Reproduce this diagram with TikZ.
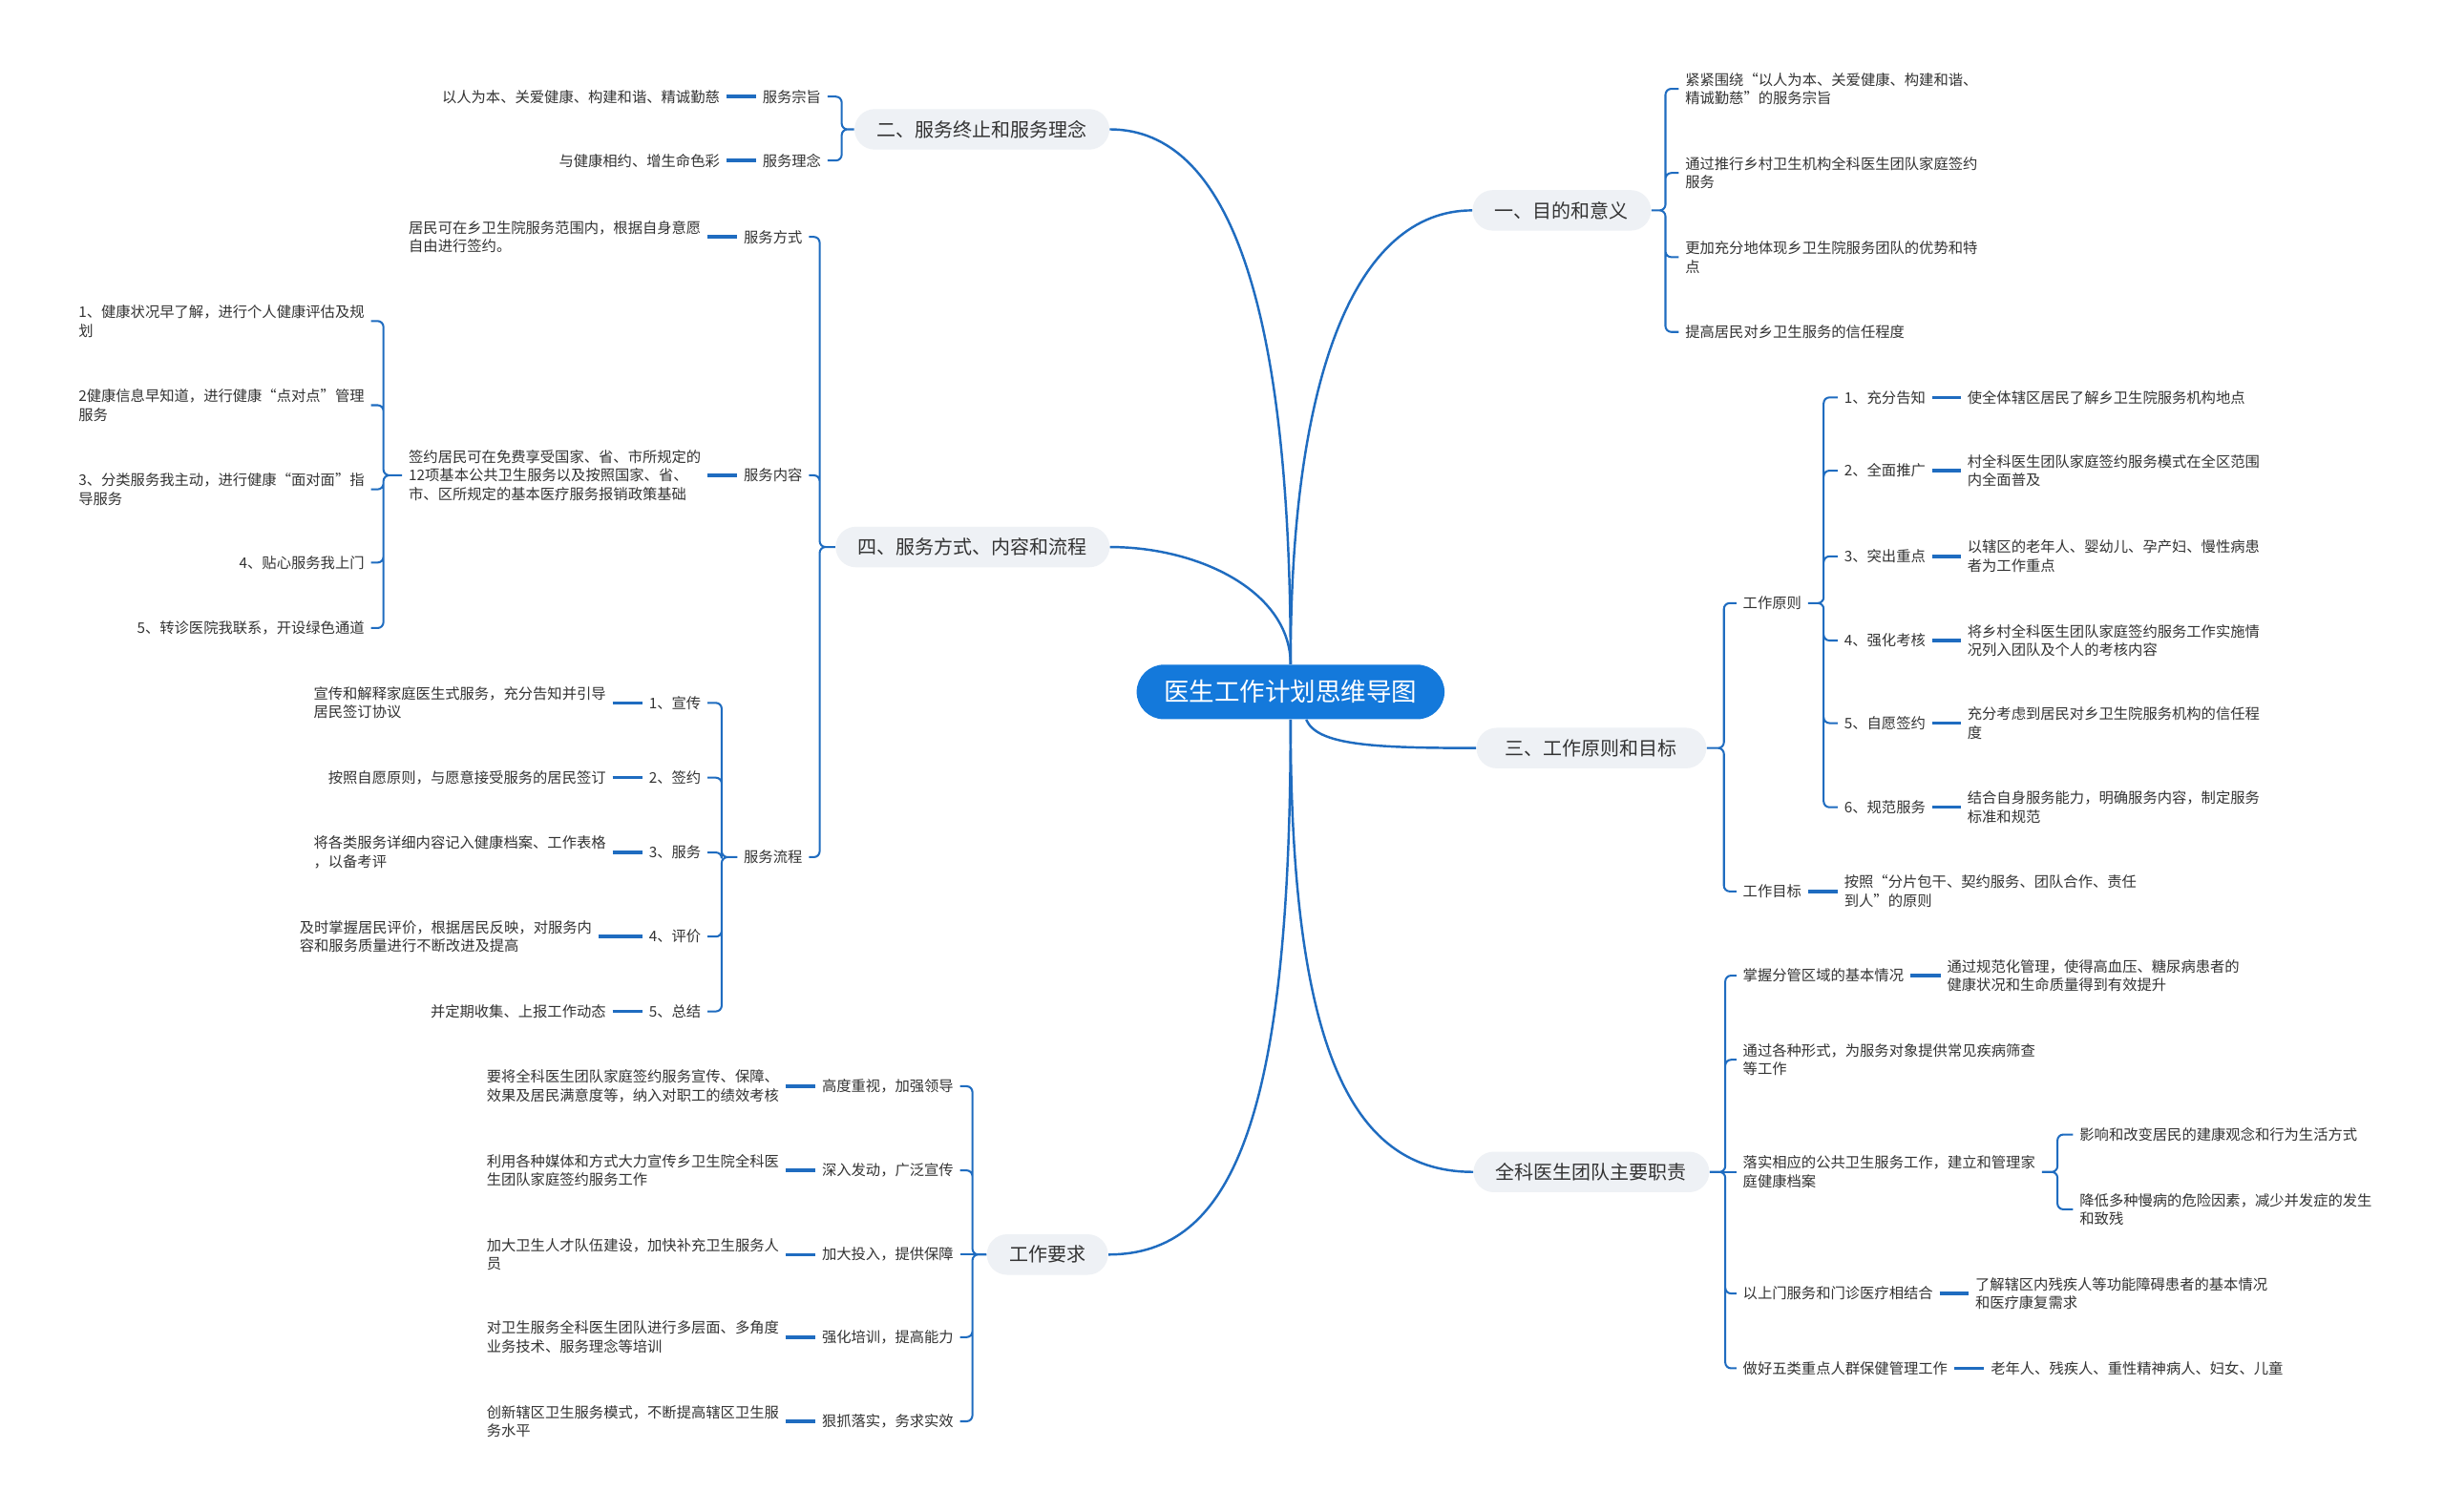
\documentclass[tikz,border=0pt]{standalone}
\usepackage{fontspec}
\setmainfont{Noto Sans CJK SC}
\definecolor{lineblue}{HTML}{1F6CC0}
\definecolor{rootblue}{HTML}{1479DB}
\definecolor{branchgrey}{HTML}{EEF1F5}
\definecolor{textgrey}{HTML}{333333}

\begin{document}
\begin{tikzpicture}[x=0.8pt, y=-0.8pt,
  txt/.style={text=textgrey, font=\fontsize{7.5}{9.6}\selectfont, align=left, inner xsep=3.2pt, inner ysep=1pt},
  branch/.style={fill=branchgrey, text=textgrey, font=\fontsize{9.8}{12}\selectfont, rounded corners=10.4pt, minimum height=20.8pt, inner xsep=11.5pt},
  curve/.style={draw=lineblue, line width=1.2pt},
  dashl/.style={draw=lineblue, line width=1.7pt},
  bracket/.style={draw=lineblue, line width=1pt, rounded corners=3pt},
  brl/.style={bracket, to path={-- ++(-#1,0) |- (\tikztotarget)}},
  brr/.style={bracket, to path={-- ++(#1,0) |- (\tikztotarget)}}]
\fill[white] (0,0) rectangle (1568,970);
\useasboundingbox (0,0) rectangle (1568,970);

\node[fill=rootblue, text=white, font=\fontsize{13}{15}\selectfont, rounded corners=14pt, minimum height=28pt, minimum width=158pt] (root) at (828,444) {医生工作计划思维导图};

 \begin{scope}[every node/.style={branch}]
  \node (b2) at (630,83) {二、服务终止和服务理念};
  \node (b4) at (624,351) {四、服务方式、内容和流程};
  \node (b6) at (672,805) {工作要求};
  \node (b1) at (1002,135) {一、目的和意义};
  \node[minimum width=118pt] (b3) at (1021,480) {三、工作原则和目标};
  \node (b5) at (1021,752) {全科医生团队主要职责};
 \end{scope}

 \begin{scope}[every node/.style={txt, anchor=east}]
  \node (c21) at (531,62) {服务宗旨};
  \node (c22) at (531,103) {服务理念};
  \node (l21) at (466,62) {以人为本、关爱健康、构建和谐、精诚勤慈};
  \node (l22) at (466,103) {与健康相约、增生命色彩};
  \node (c41) at (519,152) {服务方式};
  \node (c42) at (519,305) {服务内容};
  \node (c43) at (519,550) {服务流程};
  \node (l41) at (454,152) {居民可在乡卫生院服务范围内，根据自身意愿\\自由进行签约。};
  \node (l42) at (454,305) {签约居民可在免费享受国家、省、市所规定的\\12项基本公共卫生服务以及按照国家、省、\\市、区所规定的基本医疗服务报销政策基础};
  \node (m1) at (238,206) {1、健康状况早了解，进行个人健康评估及规\\划};
  \node (m2) at (238,260) {2健康信息早知道，进行健康“点对点”管理\\服务};
  \node (m3) at (238,314) {3、分类服务我主动，进行健康“面对面”指\\导服务};
  \node (m4) at (238,361) {4、贴心服务我上门};
  \node (m5) at (238,403) {5、转诊医院我联系，开设绿色通道};
  \node (s1) at (454,451) {1、宣传};
  \node (s2) at (454,499) {2、签约};
  \node (s3) at (454,547) {3、服务};
  \node (s4) at (454,601) {4、评价};
  \node (s5) at (454,649) {5、总结};
  \node (p1) at (393,451) {宣传和解释家庭医生式服务，充分告知并引导\\居民签订协议};
  \node (p2) at (393,499) {按照自愿原则，与愿意接受服务的居民签订};
  \node (p3) at (393,547) {将各类服务详细内容记入健康档案、工作表格\\，以备考评};
  \node (p4) at (384,601) {及时掌握居民评价，根据居民反映，对服务内\\容和服务质量进行不断改进及提高};
  \node (p5) at (393,649) {并定期收集、上报工作动态};
  \node (r1) at (616,697) {高度重视，加强领导};
  \node (r2) at (616,751) {深入发动，广泛宣传};
  \node (r3) at (616,805) {加大投入，提供保障};
  \node (r4) at (616,858) {强化培训，提高能力};
  \node (r5) at (616,912) {狠抓落实，务求实效};
  \node (q1) at (504,697) {要将全科医生团队家庭签约服务宣传、保障、\\效果及居民满意度等，纳入对职工的绩效考核};
  \node (q2) at (504,751) {利用各种媒体和方式大力宣传乡卫生院全科医\\生团队家庭签约服务工作};
  \node (q3) at (504,805) {加大卫生人才队伍建设，加快补充卫生服务人\\员};
  \node (q4) at (504,858) {对卫生服务全科医生团队进行多层面、多角度\\业务技术、服务理念等培训};
  \node (q5) at (504,912) {创新辖区卫生服务模式，不断提高辖区卫生服\\务水平};
 \end{scope}

 \begin{scope}[every node/.style={txt, anchor=west}]
  \node (e1) at (1077,57) {紧紧围绕“以人为本、关爱健康、构建和谐、\\精诚勤慈”的服务宗旨};
  \node (e2) at (1077,111) {通过推行乡村卫生机构全科医生团队家庭签约\\服务};
  \node (e3) at (1077,165) {更加充分地体现乡卫生院服务团队的优势和特\\点};
  \node (e4) at (1077,213) {提高居民对乡卫生服务的信任程度};
  \node (t1) at (1114,387) {工作原则};
  \node (t2) at (1114,572) {工作目标};
  \node (u1) at (1179,255) {1、充分告知};
  \node (u2) at (1179,302) {2、全面推广};
  \node (u3) at (1179,357) {3、突出重点};
  \node (u4) at (1179,411) {4、强化考核};
  \node (u5) at (1179,464) {5、自愿签约};
  \node (u6) at (1179,518) {6、规范服务};
  \node (v1) at (1258,255) {使全体辖区居民了解乡卫生院服务机构地点};
  \node (v2) at (1258,302) {村全科医生团队家庭签约服务模式在全区范围\\内全面普及};
  \node (v3) at (1258,357) {以辖区的老年人、婴幼儿、孕产妇、慢性病患\\者为工作重点};
  \node (v4) at (1258,411) {将乡村全科医生团队家庭签约服务工作实施情\\况列入团队及个人的考核内容};
  \node (v5) at (1258,464) {充分考虑到居民对乡卫生院服务机构的信任程\\度};
  \node (v6) at (1258,518) {结合自身服务能力，明确服务内容，制定服务\\标准和规范};
  \node (w) at (1179,572) {按照“分片包干、契约服务、团队合作、责任\\到人”的原则};
  \node (k1) at (1114,626) {掌握分管区域的基本情况};
  \node (k2) at (1114,680) {通过各种形式，为服务对象提供常见疾病筛查\\等工作};
  \node (k3) at (1114,752) {落实相应的公共卫生服务工作，建立和管理家\\庭健康档案};
  \node (k4) at (1114,830) {以上门服务和门诊医疗相结合};
  \node (k5) at (1114,878) {做好五类重点人群保健管理工作};
  \node (n1) at (1245,626) {通过规范化管理，使得高血压、糖尿病患者的\\健康状况和生命质量得到有效提升};
  \node (x1) at (1330,728) {影响和改变居民的建康观念和行为生活方式};
  \node (x2) at (1330,776) {降低多种慢病的危险因素，减少并发症的发生\\和致残};
  \node (n4) at (1263,830) {了解辖区内残疾人等功能障碍患者的基本情况\\和医疗康复需求};
  \node (n5) at (1273,878) {老年人、残疾人、重性精神病人、妇女、儿童};
 \end{scope}

  \draw[curve] (root.north) .. controls (828,200) and (790,83) .. (b2.east);
  \draw[curve] (root.north) .. controls (828,380) and (770,351) .. (b4.east);
  \draw[curve] (root.south) .. controls (828,720) and (790,805) .. (b6.east);
  \draw[curve] (root.north) .. controls (828,240) and (870,135) .. (b1.west);
  \draw[curve] ([xshift=8pt]root.south) .. controls (845,478) and (880,480) .. (b3.west);
  \draw[curve] (root.south) .. controls (828,680) and (870,752) .. (b5.west);

  \draw[brl=8] (b2.west) to (c21.east) (b2.west) to (c22.east);
  \draw[brl=10] (b4.west) to (c41.east) (b4.west) to (c42.east) (b4.west) to (c43.east);
  \draw[brl=12] (l42.west) to (m1.east) (l42.west) to (m2.east) (l42.west) to (m3.east) (l42.west) to (m4.east) (l42.west) to (m5.east);
  \draw[brl=10] (c43.west) to (s1.east) (c43.west) to (s2.east) (c43.west) to (s3.east) (c43.west) to (s4.east) (c43.west) to (s5.east);
  \draw[brl=9] (b6.west) to (r1.east) (b6.west) to (r2.east) (b6.west) to (r4.east) (b6.west) to (r5.east);
  \path [bracket] (b6) edge (r3);
  \draw[brr=9] (b1.east) to (e1.west) (b1.east) to (e2.west) (b1.east) to (e3.west) (b1.east) to (e4.west);
  \draw[brr=11] (b3.east) to (t1.west) (b3.east) to (t2.west);
  \draw[brr=10] (t1.east) to (u1.west) (t1.east) to (u2.west) (t1.east) to (u3.west) (t1.east) to (u4.west) (t1.east) to (u5.west) (t1.east) to (u6.west);
  \draw[brr=10] (b5.east) to (k1.west) (b5.east) to (k2.west) (b5.east) to (k4.west) (b5.east) to (k5.west);
  \path [bracket] (b5) edge (k3);
  \draw[brr=10] (k3.east) to (x1.west) (k3.east) to (x2.west);

  \path [dashl] (l21) edge (c21);
  \path [dashl] (l22) edge (c22);
  \path [dashl] (l41) edge (c41);
  \path [dashl] (l42) edge (c42);
  \path [dashl] (p1) edge (s1);
  \path [dashl] (p2) edge (s2);
  \path [dashl] (p3) edge (s3);
  \path [dashl] (p4) edge (s4);
  \path [dashl] (p5) edge (s5);
  \path [dashl] (q1) edge (r1);
  \path [dashl] (q2) edge (r2);
  \path [dashl] (q3) edge (r3);
  \path [dashl] (q4) edge (r4);
  \path [dashl] (q5) edge (r5);
  \path [dashl] (u1) edge (v1);
  \path [dashl] (u2) edge (v2);
  \path [dashl] (u3) edge (v3);
  \path [dashl] (u4) edge (v4);
  \path [dashl] (u5) edge (v5);
  \path [dashl] (u6) edge (v6);
  \path [dashl] (t2) edge (w);
  \path [dashl] (k1) edge (n1);
  \path [dashl] (k4) edge (n4);
  \path [dashl] (k5) edge (n5);
\end{tikzpicture}
\end{document}
